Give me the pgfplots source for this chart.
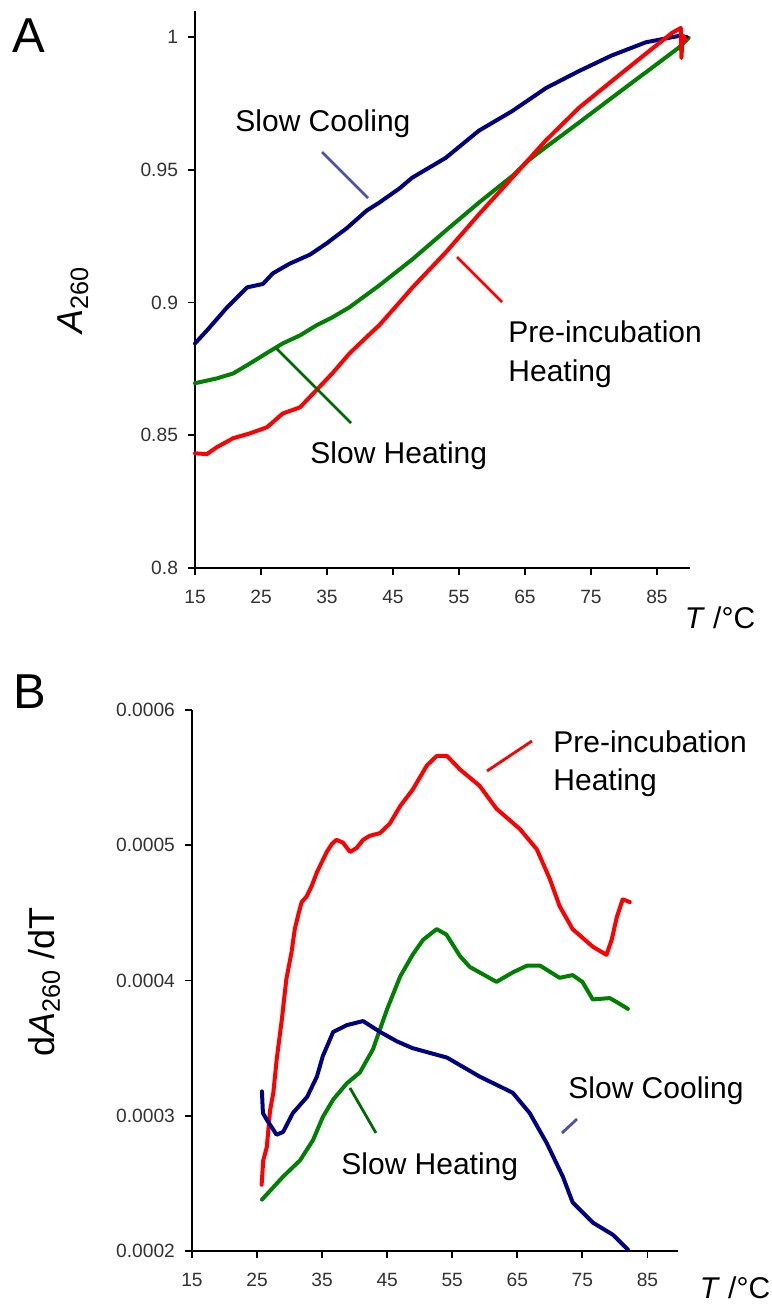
\documentclass[border=0pt]{standalone}
\usepackage{fontspec}
\setmainfont{Liberation Sans}
\usepackage{pgfplots}
\pgfplotsset{compat=1.18}
\definecolor{cnavy}{RGB}{0,0,128}
\definecolor{cgreen}{RGB}{0,128,0}
\definecolor{cred}{RGB}{255,0,0}
\definecolor{lblue}{RGB}{80,80,170}
\definecolor{lgreen}{RGB}{0,105,0}
\pgfplotsset{
  myax/.style={
    scale only axis,
    axis x line=bottom, axis y line=left,
    axis line style={-, line width=1pt, black},
    tick align=outside, major tick length=3.5pt,
    tick style={line width=0.9pt, black},
    xmin=15, xmax=90,
    xtick={15,25,35,45,55,65,75,85},
    minor tick num=0,
    ticklabel style={font=\fontsize{9.6}{10}\selectfont, text=black!80},
    /pgf/number format/assume math mode=true,
    yticklabel style={xshift=-1.5pt},
    xticklabel style={yshift=-4pt},
    scaled y ticks=false,
    clip=false,
  },
  cur/.style={line width=2pt, line join=round, line cap=round}
}
\begin{document}
\begin{tikzpicture}
\useasboundingbox (0,0) rectangle (385.5pt,-652pt);
% ---------- Panel A ----------
\begin{axis}[myax, at={(97.5pt,-284pt)}, anchor=south west,
  width=247.5pt, height=278.5pt,
  ymin=0.8, ymax=1.0098,
  ytick={0.8,0.85,0.9,0.95,1},
  yticklabels={0.8,0.85,0.9,0.95,1}]
\addplot[cur, cgreen] coordinates {
(15,0.8696)(18.3,0.8714)(20.8,0.8733)(23.3,0.877)(25.9,0.881)(28.3,0.8846)
(30.9,0.8876)(33.4,0.8914)(35.8,0.8944)(38.4,0.8982)(42.9,0.9064)(48,0.9164)
(53,0.9271)(58.05,0.9377)(63.1,0.9477)(65.6,0.9537)(68.1,0.9584)(73.2,0.9678)
(78.2,0.9772)(83.2,0.9865)(88.3,0.996)(89.8,0.9997)};
\addplot[cur, cnavy] coordinates {
(15,0.8846)(17,0.890)(19.8,0.898)(22.9,0.9057)(25.3,0.907)(26.8,0.911)
(29.4,0.9147)(32.4,0.918)(34.9,0.9222)(38,0.928)(41,0.9346)(42.9,0.9376)
(46,0.943)(47.9,0.947)(53,0.9545)(58,0.9647)(63,0.972)(68.2,0.9808)
(73.2,0.9872)(78.1,0.993)(83.3,0.998)(88.3,1.0004)(89.5,1.0)};
\addplot[cur, cred] coordinates {
(15,0.8432)(16.8,0.8429)(18.3,0.8455)(20.8,0.8489)(23.3,0.8507)(25.9,0.853)
(28.3,0.8582)(30.9,0.8605)(33.4,0.867)(35.8,0.8733)(38.4,0.8808)(41,0.887)
(42.9,0.8914)(46,0.9001)(48,0.9058)(53,0.9189)(58.05,0.9333)(63.1,0.9471)
(65.6,0.954)(68.1,0.9609)(73.2,0.9734)(78.2,0.9835)(83.2,0.9935)(87.3,1.0016)
(88.6,1.0034)(88.7,0.9921)(88.9,1.0005)(89.4,0.999)};
\end{axis}
% ---------- Panel B ----------
\begin{axis}[myax, at={(96pt,-625.5pt)}, anchor=south west,
  width=243pt, height=270.5pt,
  xmax=89.7,
  ymin=0.0002, ymax=0.0006,
  ytick={0.0002,0.0003,0.0004,0.0005,0.0006},
  yticklabels={0.0002,0.0003,0.0004,0.0005,0.0006}]
\addplot[cur, cred] coordinates {
(25.7,0.000249)(25.95,0.000267)(26.5,0.000277)(27.0,0.000304)(27.5,0.000317)
(28.0,0.000341)(28.8,0.000371)(29.5,0.000401)(30.3,0.000421)(30.8,0.000438)
(31.3,0.000448)(31.85,0.000458)(32.6,0.000462)(33.4,0.000470)(34.2,0.000480)
(34.9,0.000487)(35.7,0.000495)(36.5,0.000501)(37.2,0.000504)(38.2,0.000502)
(39.3,0.000495)(40.3,0.000498)(41.3,0.000504)(42.3,0.000507)(43.9,0.000509)
(45.4,0.000516)(47,0.000529)(48.9,0.000541)(51.1,0.000559)(52.6,0.000566)
(54.2,0.000566)(56.2,0.000556)(59.2,0.000544)(61.8,0.000527)(65.4,0.000512)
(68,0.000497)(70,0.000475)(71.5,0.000455)(73.5,0.000438)(76.6,0.000425)
(78.7,0.000419)(79.5,0.000430)(80.3,0.000447)(81.2,0.000460)(82.3,0.000458)};
\addplot[cur, cgreen] coordinates {
(25.75,0.000238)(29,0.000255)(31.6,0.000267)(33.6,0.000282)(35.1,0.000299)
(36.7,0.000312)(38.8,0.000324)(40.8,0.000332)(42.8,0.000349)(45,0.000379)
(47,0.000403)(48.9,0.000419)(50.5,0.000430)(52.6,0.000438)(54.1,0.000434)
(56.2,0.000418)(57.7,0.000410)(59.2,0.000406)(61.8,0.000399)(64.3,0.000406)
(66.5,0.000411)(68.5,0.000411)(71.5,0.000402)(73.5,0.000404)(75,0.000399)
(76.6,0.000386)(79.2,0.000387)(80.3,0.000384)(82,0.000379)};
\addplot[cur, cnavy] coordinates {
(25.75,0.000318)(25.9,0.000302)(26.5,0.000297)(28,0.000286)(29,0.000288)
(30.5,0.000302)(32.7,0.000314)(34.2,0.000329)(35.1,0.000344)(36.7,0.000362)
(38.8,0.000367)(41.3,0.000370)(43.9,0.000362)(46.5,0.000355)(48.9,0.000350)
(54.2,0.000343)(59.2,0.000329)(64.3,0.000317)(66.9,0.000302)(69.5,0.000280)
(72,0.000255)(73.5,0.000236)(76.6,0.000221)(79.7,0.000212)(82,0.000201)};
\end{axis}
% ---------- labels ----------
\node[anchor=base west, inner sep=0, font=\fontsize{24.5}{25}\selectfont] at (6pt,-26.5pt) {A};
\node[anchor=base west, inner sep=0, font=\fontsize{24.5}{25}\selectfont] at (6.5pt,-354pt) {B};
\node[rotate=90, inner sep=0, font=\fontsize{18}{20}\selectfont] at (36.5pt,-150pt) {\textit{A}\textsubscript{260}};
\node[rotate=90, inner sep=0, font=\fontsize{18}{20}\selectfont] at (22pt,-491pt) {d\textit{A}\textsubscript{260} /dT};
\node[inner sep=0, font=\fontsize{15}{16}\selectfont] at (360pt,-309pt) {\textit{T} /°C};
\node[inner sep=0, font=\fontsize{15}{16}\selectfont] at (367.5pt,-644pt) {\textit{T} /°C};
% annotations A
\node[anchor=base west, inner sep=0, font=\fontsize{15}{16}\selectfont] at (117.5pt,-66pt) {Slow Cooling};
\draw[lblue, line width=1.4pt] (161pt,-76pt) -- (184pt,-99pt);
\node[anchor=base west, inner sep=0, font=\fontsize{15}{16}\selectfont] at (254pt,-171.5pt) {Pre-incubation};
\node[anchor=base west, inner sep=0, font=\fontsize{15}{16}\selectfont] at (254pt,-191pt) {Heating};
\draw[cred, line width=1.4pt] (228.5pt,-128.5pt) -- (251pt,-151pt);
\node[anchor=base west, inner sep=0, font=\fontsize{15}{16}\selectfont] at (155pt,-231.5pt) {Slow Heating};
\draw[lgreen, line width=1.4pt] (138pt,-174pt) -- (175.5pt,-211.5pt);
% annotations B
\node[anchor=base west, inner sep=0, font=\fontsize{15}{16}\selectfont] at (276.5pt,-376pt) {Pre-incubation};
\node[anchor=base west, inner sep=0, font=\fontsize{15}{16}\selectfont] at (276.5pt,-395pt) {Heating};
\draw[cred, line width=1.4pt] (243.5pt,-385.5pt) -- (266pt,-370.5pt);
\node[anchor=base west, inner sep=0, font=\fontsize{15}{16}\selectfont] at (284pt,-549pt) {Slow Cooling};
\draw[lblue, line width=1.4pt] (281pt,-566.5pt) -- (288.5pt,-559.5pt);
\node[anchor=base west, inner sep=0, font=\fontsize{15}{16}\selectfont] at (170.5pt,-587pt) {Slow Heating};
\draw[lgreen, line width=1.4pt] (175pt,-544pt) -- (188pt,-566.5pt);
\end{tikzpicture}
\end{document}
